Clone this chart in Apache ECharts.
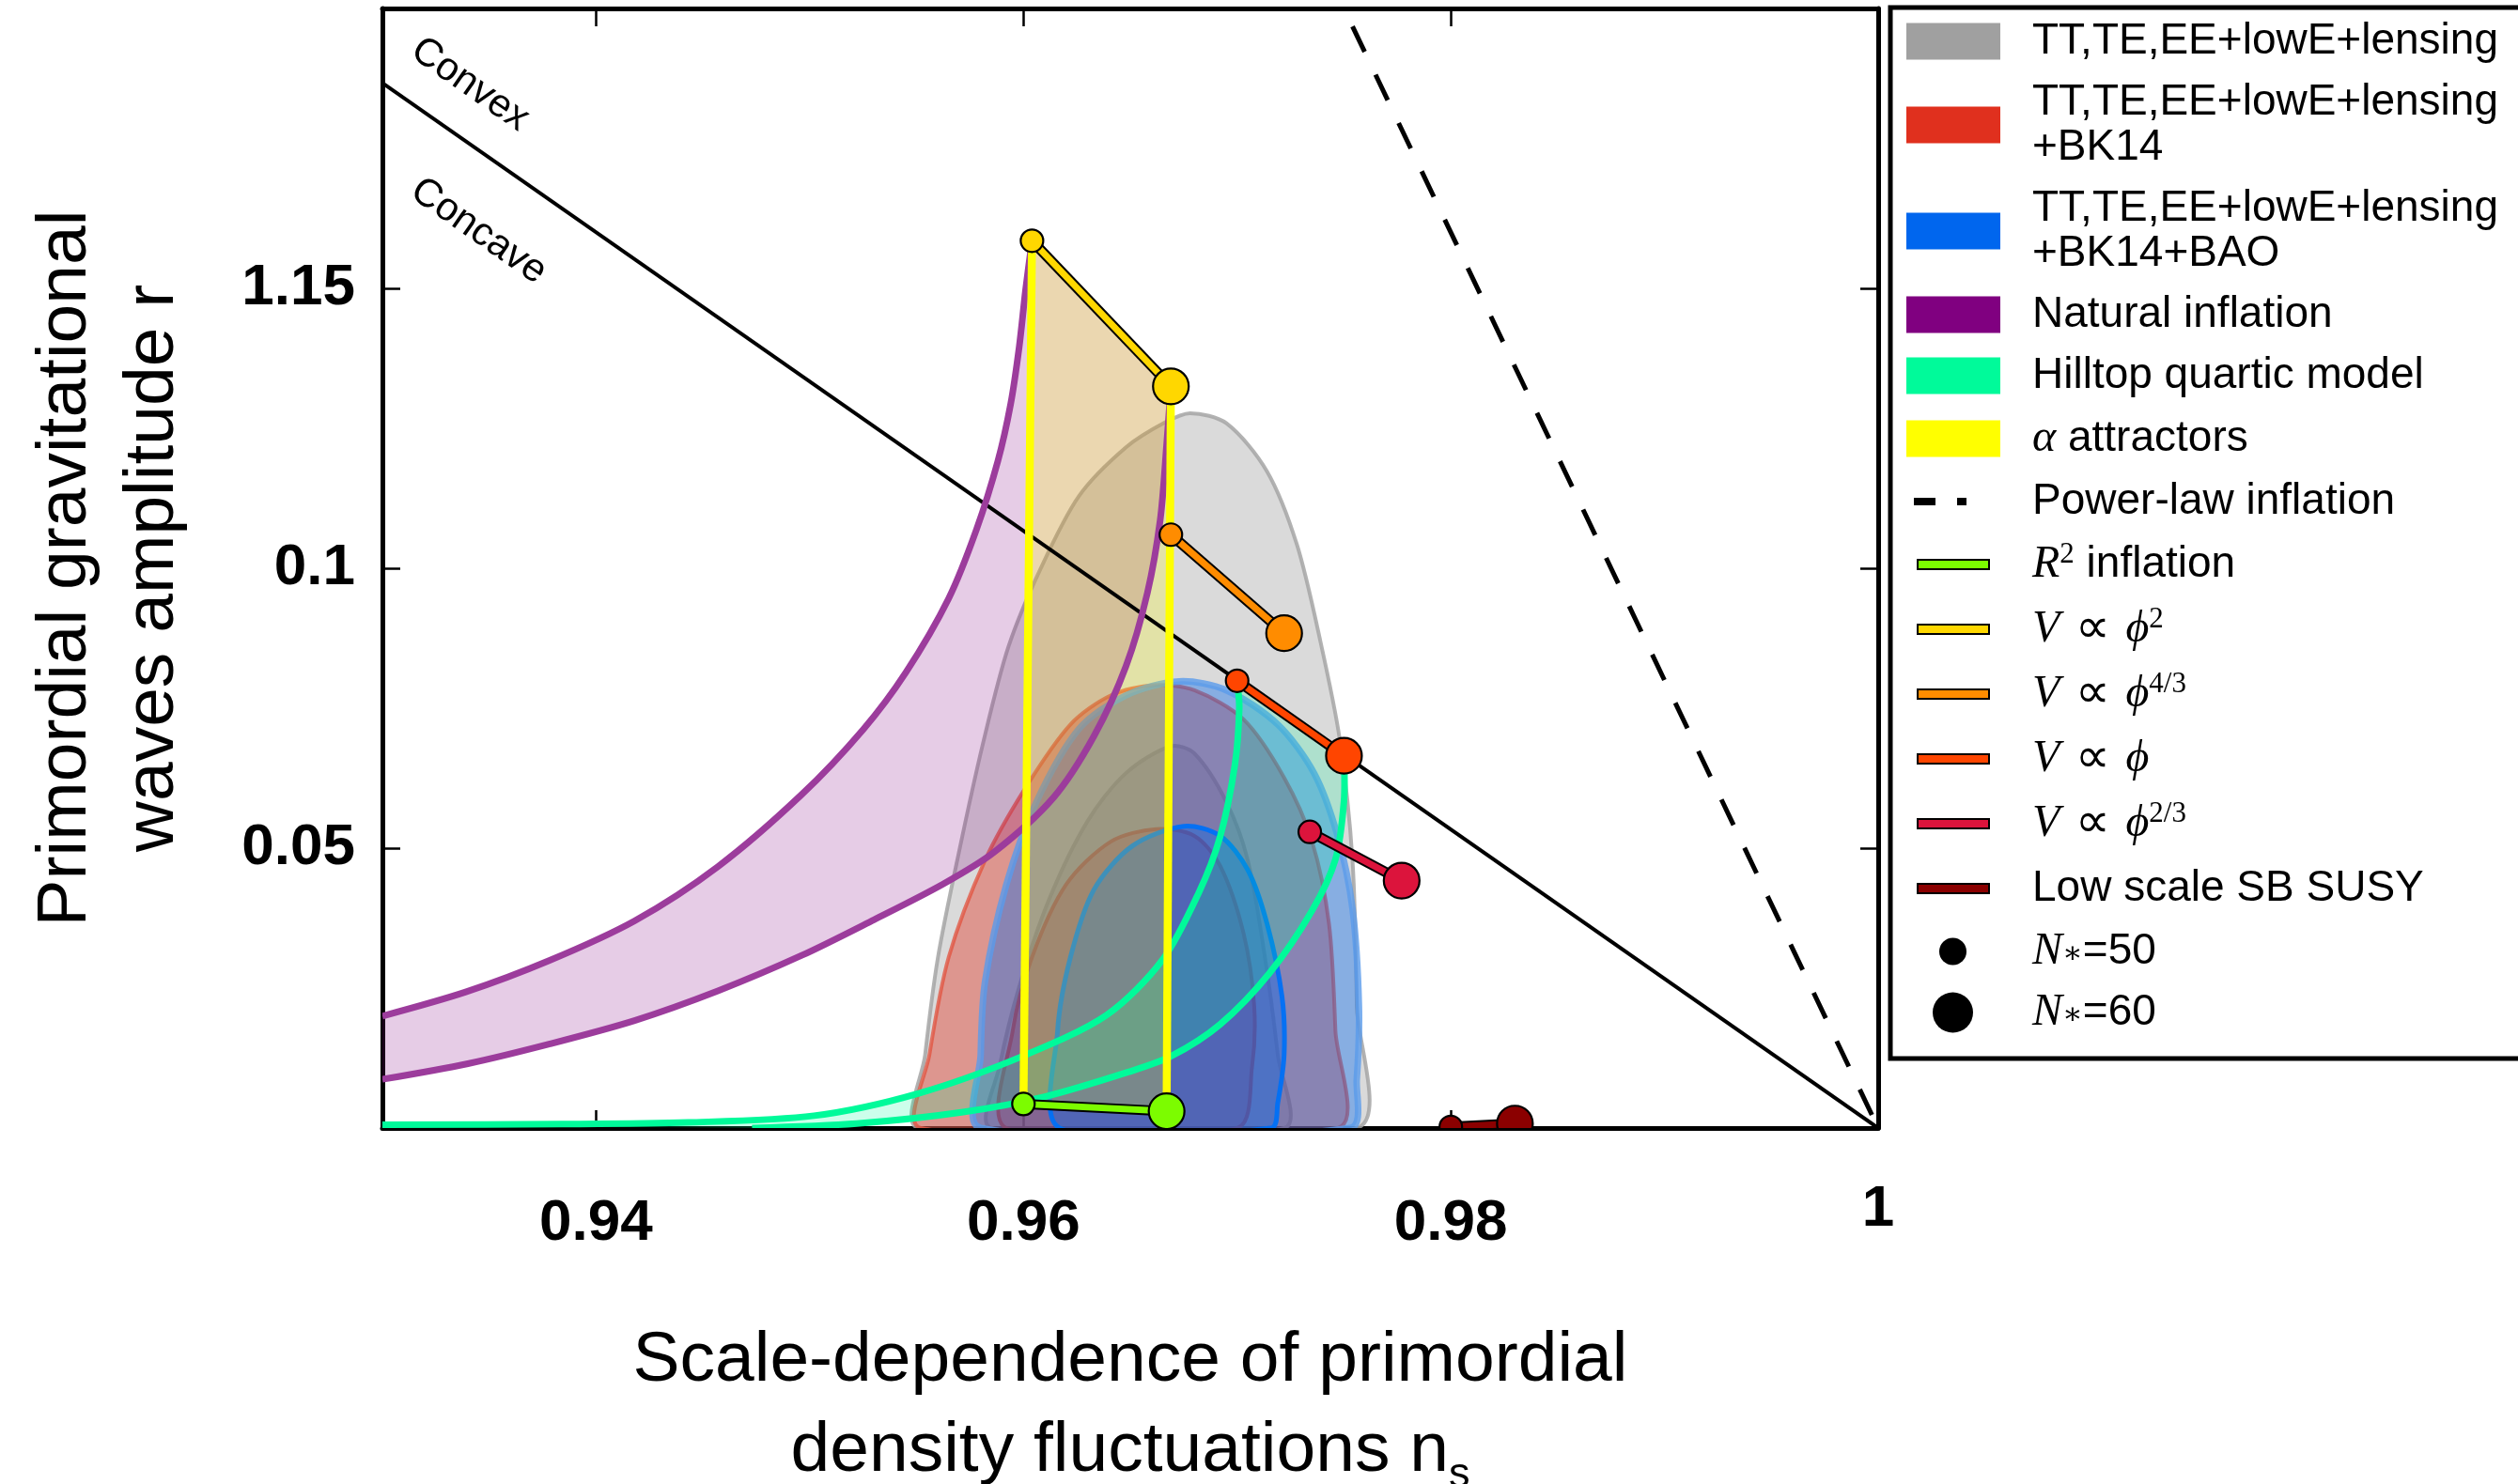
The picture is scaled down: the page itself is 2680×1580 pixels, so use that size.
<!DOCTYPE html>
<html><head><meta charset="utf-8">
<script src="https://cdn.jsdelivr.net/npm/echarts@6/dist/echarts.min.js"></script>
<style>html,body{margin:0;padding:0;background:#fff}#c{width:2680px;height:1580px}</style>
</head><body><div id="c"></div>
<script>
const FONT = "'Liberation Sans', Arial, sans-serif";
const SERIF = "'Liberation Serif', 'DejaVu Serif', serif";

// ---- ticks ----
const xTicks = [0.94, 0.96, 0.98, 1.0];
const xTickLabels = ['0.94', '0.96', '0.98', '1'];
const yTicks = [0.05, 0.10, 0.15];
const yTickLabels = ['0.05', '0.1', '1.15'];

// ---- Planck contours [n_s, r] ----
const grayOuter = [[0.9551,0],[0.9554,0.0131],[0.9560,0.0305],[0.9570,0.0496],[0.9581,0.0686],[0.9593,0.0860],[0.9608,0.0999],[0.9626,0.1129],[0.9648,0.1216],[0.9666,0.1260],[0.9678,0.1277],[0.9695,0.1259],[0.9714,0.1173],[0.9728,0.1042],[0.9739,0.0869],[0.9748,0.0695],[0.9754,0.0478],[0.9756,0.0218],[0.9756,0]];
const grayInner = [[0.9585,0],[0.9589,0.0113],[0.9598,0.0252],[0.9612,0.0408],[0.9630,0.0548],[0.9648,0.0634],[0.9669,0.0682],[0.9680,0.0669],[0.9695,0.0582],[0.9705,0.0478],[0.9713,0.0305],[0.9719,0.0131],[0.9722,0]];
const redOuter = [[0.9552,0],[0.9556,0.0131],[0.9565,0.0305],[0.9582,0.0478],[0.9601,0.0608],[0.9622,0.0721],[0.9641,0.0773],[0.9661,0.0791],[0.9680,0.0782],[0.9703,0.0730],[0.9722,0.0626],[0.9735,0.0513],[0.9743,0.0365],[0.9746,0.0174],[0.9747,0]];
const redInner = [[0.9592,0],[0.9595,0.0174],[0.9604,0.0305],[0.9620,0.0435],[0.9641,0.0512],[0.9662,0.0534],[0.9680,0.0522],[0.9692,0.0469],[0.9703,0.0348],[0.9708,0.0218],[0.9707,0.0110],[0.9700,0]];
const blueOuter = [[0.9580,0],[0.9580,0.0131],[0.9582,0.0261],[0.9592,0.0435],[0.9606,0.0582],[0.9626,0.0713],[0.9648,0.0773],[0.9673,0.0798],[0.9695,0.0782],[0.9719,0.0721],[0.9736,0.0634],[0.9747,0.0522],[0.9754,0.0392],[0.9757,0.0218],[0.9756,0.0087],[0.9753,0]];
const blueInner = [[0.9617,0],[0.9616,0.0174],[0.9622,0.0305],[0.9633,0.0426],[0.9651,0.0504],[0.9675,0.0539],[0.9692,0.0522],[0.9705,0.0461],[0.9714,0.0365],[0.9721,0.0235],[0.9722,0.0131],[0.9719,0.0044],[0.9716,0]];

// ---- model bands ----
const naturalOuter = [[0.9300,0.0200],[0.9339,0.0243],[0.9378,0.0299],[0.9418,0.0370],[0.9457,0.0467],[0.9496,0.0595],[0.9525,0.0712],[0.9545,0.0814],[0.9565,0.0946],[0.9578,0.1069],[0.9588,0.1191],[0.9594,0.1293],[0.9598,0.1395],[0.9601,0.1497],[0.9604,0.1585]];
const naturalInner = [[0.9300,0.0087],[0.9340,0.0115],[0.9378,0.0150],[0.9418,0.0192],[0.9457,0.0245],[0.9496,0.0308],[0.9530,0.0372],[0.9562,0.0435],[0.9586,0.0492],[0.9614,0.0590],[0.9633,0.0700],[0.9648,0.0825],[0.9658,0.0956],[0.9664,0.1086],[0.9667,0.1220],[0.9669,0.1325]];
const hilltopN50 = [[0.9300,0.0006],[0.9384,0.0007],[0.9443,0.0010],[0.9502,0.0022],[0.9551,0.0062],[0.9600,0.0129],[0.9639,0.0202],[0.9665,0.0300],[0.9682,0.0420],[0.9692,0.0520],[0.9699,0.0650],[0.9701,0.0750],[0.9700,0.0799]];
const hilltopN60 = [[0.9473,0.0000],[0.9522,0.0008],[0.9571,0.0028],[0.9610,0.0056],[0.9649,0.0100],[0.9669,0.0128],[0.9692,0.0185],[0.9715,0.0276],[0.9735,0.0388],[0.9746,0.0480],[0.9750,0.0584],[0.9750,0.0665]];

// ---- lines ----
const boundaryLine = [[0.93,0.1867],[1.0,0.0]];
const powerLaw = [[0.9754,0.1968],[1.0,0.0]];

// ---- model tracks: [N*=50 point, N*=60 point] ----
const r2Track = [[0.9600,0.0043],[0.9667,0.0030]];
const phi2Track = [[0.9604,0.1585],[0.9669,0.1325]];
const phi43Track = [[0.9669,0.1060],[0.9722,0.0884]];
const phi1Track = [[0.9700,0.0799],[0.9750,0.0665]];
const phi23Track = [[0.9734,0.0529],[0.9777,0.0442]];
const susyTrack = [[0.9800,0.0002],[0.9830,0.0008]];

// ---- annotations ----
const annotationText = ['Convex', 'Concave'];
const annotationPos = [[0.9341,0.1864],[0.9345,0.1602]];

// ================== build ==================
const tracks = [
  {name: 'R² inflation', color: '#7cfc00', pts: r2Track},
  {name: 'V ∝ ϕ^2', color: '#ffd700', pts: phi2Track},
  {name: 'V ∝ ϕ^4/3', color: '#ff8c00', pts: phi43Track},
  {name: 'V ∝ ϕ', color: '#ff4500', pts: phi1Track},
  {name: 'V ∝ ϕ^2/3', color: '#dc143c', pts: phi23Track},
  {name: 'Low scale SB SUSY', color: '#8b0000', pts: susyTrack}
];

function pathSeries(name, pts, z, style, closed, smooth) {
  return {
    type: 'custom', name: name, coordinateSystem: 'cartesian2d', clip: true, silent: true, z: z,
    data: pts, encode: {x: 0, y: 1},
    renderItem: function (params, api) {
      if (params.dataIndex !== 0) return null;
      const points = pts.map(p => api.coord(p));
      return {type: closed ? 'polygon' : 'polyline', shape: {points: points, smooth: smooth || 0}, style: style};
    }
  };
}
function trackSeries(t, z) {
  return {
    type: 'custom', name: t.name, coordinateSystem: 'cartesian2d', clip: true, silent: true, z: z,
    data: t.pts, encode: {x: 0, y: 1},
    renderItem: function (params, api) {
      if (params.dataIndex !== 0) return null;
      const a = api.coord(t.pts[0]), b = api.coord(t.pts[1]);
      const sh = {x1: a[0], y1: a[1], x2: b[0], y2: b[1]};
      return {type: 'group', children: [
        {type: 'line', shape: sh, style: {stroke: '#000', lineWidth: 11}},
        {type: 'line', shape: sh, style: {stroke: t.color, lineWidth: 7}}
      ]};
    }
  };
}
function dotSeries(name, idx, radius, z) {
  const data = tracks.map((t, k) => [t.pts[idx][0], t.pts[idx][1], k]);
  return {
    type: 'custom', name: name, coordinateSystem: 'cartesian2d', clip: true, silent: true, z: z,
    data: data, encode: {x: 0, y: 1},
    renderItem: function (params, api) {
      const c = api.coord([api.value(0), api.value(1)]);
      return {type: 'circle', shape: {cx: c[0], cy: c[1], r: radius},
        style: {fill: tracks[api.value(2)].color, stroke: '#000', lineWidth: 2.2}};
    }
  };
}
const annotationSeries = {
  type: 'custom', coordinateSystem: 'cartesian2d', clip: true, silent: true, z: 30,
  data: annotationPos, encode: {x: 0, y: 1},
  renderItem: function (params, api) {
    const a = api.coord(boundaryLine[0]), b = api.coord(boundaryLine[1]);
    const rot = -Math.atan2(b[1] - a[1], b[0] - a[0]);
    const p = api.coord(annotationPos[params.dataIndex]);
    return {type: 'text', x: p[0], y: p[1], rotation: rot,
      style: {text: annotationText[params.dataIndex], fontSize: 42, fontFamily: FONT, fill: '#000',
        align: 'center', verticalAlign: 'middle', textAlign: 'center', textVerticalAlign: 'middle'}};
  }
};

const G = 'TT,TE,EE+lowE+lensing';
const R = 'TT,TE,EE+lowE+lensing+BK14';
const B = 'TT,TE,EE+lowE+lensing+BK14+BAO';
const NAT = 'Natural inflation', HQ = 'Hilltop quartic model', AA = 'α attractors', PL = 'Power-law inflation';

const series = [
  pathSeries(G, grayOuter, 1, {fill: 'rgba(150,150,150,0.35)', stroke: 'rgba(165,165,165,0.85)', lineWidth: 4}, true, 0.3),
  pathSeries(G, grayInner, 2, {fill: 'rgba(150,150,150,0.35)', stroke: 'rgba(160,160,160,0.9)', lineWidth: 4}, true, 0.3),
  pathSeries(R, redOuter, 3, {fill: 'rgba(224,48,30,0.4)', stroke: 'rgba(225,80,60,0.75)', lineWidth: 4}, true, 0.3),
  pathSeries(R, redInner, 4, {fill: 'rgba(224,48,30,0.4)', stroke: 'rgba(215,55,35,0.9)', lineWidth: 4}, true, 0.3),
  pathSeries(B, blueOuter, 5, {fill: 'rgba(0,102,238,0.38)', stroke: 'rgba(90,155,235,0.8)', lineWidth: 7}, true, 0.3),
  pathSeries(B, blueInner, 6, {fill: 'rgba(0,102,238,0.38)', stroke: 'rgba(0,112,245,0.95)', lineWidth: 5}, true, 0.3),
  pathSeries(NAT, naturalOuter.concat(naturalInner.slice().reverse()), 7, {fill: 'rgba(128,0,128,0.2)'}, true, 0),
  pathSeries(HQ, hilltopN50.concat(hilltopN60.slice().reverse()), 8, {fill: 'rgba(0,250,154,0.2)'}, true, 0),
  pathSeries(AA, [phi2Track[0], phi2Track[1], r2Track[1], r2Track[0]], 9, {fill: 'rgba(255,255,0,0.23)'}, true, 0),
  pathSeries('', boundaryLine, 10, {fill: 'none', stroke: '#000', lineWidth: 4}, false, 0),
  pathSeries(PL, powerLaw, 10, {fill: 'none', stroke: '#000', lineWidth: 5, lineDash: [30, 27]}, false, 0),
  pathSeries(NAT, naturalOuter, 11, {fill: 'none', stroke: '#9c3c9c', lineWidth: 7}, false, 0.3),
  pathSeries(NAT, naturalInner, 11, {fill: 'none', stroke: '#9c3c9c', lineWidth: 7}, false, 0.3),
  pathSeries(HQ, hilltopN50, 12, {fill: 'none', stroke: '#00fa9a', lineWidth: 7}, false, 0.3),
  pathSeries(HQ, hilltopN60, 12, {fill: 'none', stroke: '#00fa9a', lineWidth: 7}, false, 0.3),
  pathSeries(AA, [phi2Track[0], r2Track[0]], 13, {fill: 'none', stroke: '#ffff00', lineWidth: 8.5}, false, 0),
  pathSeries(AA, [phi2Track[1], r2Track[1]], 13, {fill: 'none', stroke: '#ffff00', lineWidth: 8.5}, false, 0)
];
tracks.forEach(t => series.push(trackSeries(t, 20)));
series.push(dotSeries('N*=50', 0, 12, 21));
series.push(dotSeries('N*=60', 1, 19, 22));
series.push(annotationSeries);

// ---- legend ----
const BOX = 'path://M0,0M129,44';
const patch = BOX + 'M0,2.5H100V41.5H0Z';
const bar = BOX + 'M12,17H88V27H12Z';
const legendItems = [
  {name: G, icon: patch, itemStyle: {color: '#a0a0a0', borderWidth: 0}},
  {name: R, icon: patch, itemStyle: {color: '#e0301e', borderWidth: 0}},
  {name: B, icon: patch, itemStyle: {color: '#0066ee', borderWidth: 0}},
  {name: NAT, icon: patch, itemStyle: {color: '#800080', borderWidth: 0}},
  {name: HQ, icon: patch, itemStyle: {color: '#00fa9a', borderWidth: 0}},
  {name: AA, icon: patch, itemStyle: {color: '#ffff00', borderWidth: 0}},
  {name: PL, icon: BOX + 'M8,18H31V26H8ZM54,18H64V26H54Z', itemStyle: {color: '#000', borderWidth: 0}}
].concat(tracks.map(t => ({name: t.name, icon: bar, itemStyle: {color: t.color, borderColor: '#000', borderWidth: 2}})))
 .concat([
  {name: 'N*=50', icon: BOX + 'M35,22a14.5,14.5 0 1,0 29,0a14.5,14.5 0 1,0 -29,0Z', itemStyle: {color: '#000', borderWidth: 0}},
  {name: 'N*=60', icon: BOX + 'M28,22a21.5,21.5 0 1,0 43,0a21.5,21.5 0 1,0 -43,0Z', itemStyle: {color: '#000', borderWidth: 0}}
 ]);
const legendLabels = {};
legendLabels[G] = 'TT,TE,EE+lowE+lensing';
legendLabels[R] = 'TT,TE,EE+lowE+lensing\n+BK14';
legendLabels[B] = 'TT,TE,EE+lowE+lensing\n+BK14+BAO';
legendLabels[NAT] = 'Natural inflation';
legendLabels[HQ] = 'Hilltop quartic model';
legendLabels[AA] = '{i|α}{t| attractors}';
legendLabels[PL] = 'Power-law inflation';
legendLabels['R² inflation'] = '{i|R}{sup|2}{t| inflation}';
legendLabels['V ∝ ϕ^2'] = '{i|V}{m| ∝ }{i|ϕ}{sup|2}';
legendLabels['V ∝ ϕ^4/3'] = '{i|V}{m| ∝ }{i|ϕ}{sup|4/3}';
legendLabels['V ∝ ϕ'] = '{i|V}{m| ∝ }{i|ϕ}';
legendLabels['V ∝ ϕ^2/3'] = '{i|V}{m| ∝ }{i|ϕ}{sup|2/3}';
legendLabels['Low scale SB SUSY'] = '{t|Low scale SB SUSY}';
legendLabels['N*=50'] = '{iN|N}{sub|∗}{tN|=50}';
legendLabels['N*=60'] = '{iN|N}{sub|∗}{tN|=60}';

const axisLineStyle = {show: true, onZero: false, lineStyle: {color: '#000', width: 5}};
const tickStyle = (vals) => ({show: true, inside: true, length: 19, customValues: vals, lineStyle: {color: '#000', width: 2.5}});

const option = {
  animation: false,
  backgroundColor: '#fff',
  grid: {left: 407, right: 681, top: 9, bottom: 379, containLabel: false, outerBoundsMode: 'none'},
  xAxis: [{
    type: 'value', min: 0.93, max: 1.0, position: 'bottom',
    axisLine: axisLineStyle, axisTick: tickStyle(xTicks), splitLine: {show: false},
    axisLabel: {
      customValues: xTicks, margin: 66, fontSize: 62, fontWeight: 'bold', fontFamily: FONT, color: '#000', lineHeight: 72,
      formatter: function (v) {
        const i = xTicks.findIndex(t => Math.abs(t - v) < 1e-9);
        if (i < 0) return '';
        return i === xTicks.length - 1 ? '{hi|' + xTickLabels[i] + '}' : xTickLabels[i];
      },
      rich: {hi: {fontSize: 62, fontWeight: 'bold', fontFamily: FONT, color: '#000', lineHeight: 42}}
    },
    name: 'Scale-dependence of primordial\ndensity fluctuations n{sub|s}',
    nameLocation: 'middle', nameGap: 200,
    nameTextStyle: {fontSize: 75, lineHeight: 96, fontFamily: FONT, color: '#000',
      rich: {sub: {fontSize: 45, fontFamily: FONT, color: '#000', lineHeight: 76, verticalAlign: 'bottom'}}}
  }, {
    type: 'value', min: 0.93, max: 1.0, position: 'top',
    axisLine: axisLineStyle, axisTick: tickStyle(xTicks), splitLine: {show: false},
    axisLabel: {show: false, customValues: xTicks}
  }],
  yAxis: [{
    type: 'value', min: 0, max: 0.2, position: 'left',
    axisLine: axisLineStyle, axisTick: tickStyle(yTicks), splitLine: {show: false},
    axisLabel: {
      customValues: yTicks, margin: 29, fontSize: 62, fontWeight: 'bold', fontFamily: FONT, color: '#000',
      formatter: function (v) {
        const i = yTicks.findIndex(t => Math.abs(t - v) < 1e-9);
        return i < 0 ? '' : yTickLabels[i];
      }
    },
    name: 'Primordial gravitational\nwaves amplitude r',
    nameLocation: 'middle', nameGap: 197,
    nameTextStyle: {fontSize: 75, lineHeight: 93, fontFamily: FONT, color: '#000'}
  }, {
    type: 'value', min: 0, max: 0.2, position: 'right',
    axisLine: axisLineStyle, axisTick: tickStyle(yTicks), splitLine: {show: false},
    axisLabel: {show: false, customValues: yTicks}
  }],
  legend: {
    orient: 'vertical', left: 2012, top: 8, padding: [12, 60, 25, 16],
    itemWidth: 129, itemHeight: 44, itemGap: 17, selectedMode: false,
    borderColor: '#000', borderWidth: 5, backgroundColor: '#fff',
    data: legendItems,
    formatter: function (name) { return legendLabels[name] || name; },
    textStyle: {
      fontFamily: FONT, fontSize: 46, lineHeight: 48, color: '#000',
      rich: {
        t: {fontFamily: FONT, fontSize: 46, lineHeight: 52, color: '#000'},
        i: {fontFamily: SERIF, fontStyle: 'italic', fontSize: 48, lineHeight: 52, color: '#000'},
        m: {fontFamily: "'DejaVu Sans', sans-serif", fontSize: 52, lineHeight: 52, color: '#000'},
        sup: {fontFamily: SERIF, fontSize: 31, lineHeight: 30, verticalAlign: 'top', color: '#000'},
        iN: {fontFamily: SERIF, fontStyle: 'italic', fontSize: 48, lineHeight: 40, color: '#000'},
        tN: {fontFamily: FONT, fontSize: 46, lineHeight: 40, color: '#000'},
        sub: {fontFamily: SERIF, fontSize: 32, lineHeight: 20, verticalAlign: 'bottom', color: '#000'}
      }
    }
  },
  series: series
};

const chart = echarts.init(document.getElementById('c'), null, {renderer: 'canvas', width: 2680, height: 1580});
chart.setOption(option);
</script>
</body></html>
